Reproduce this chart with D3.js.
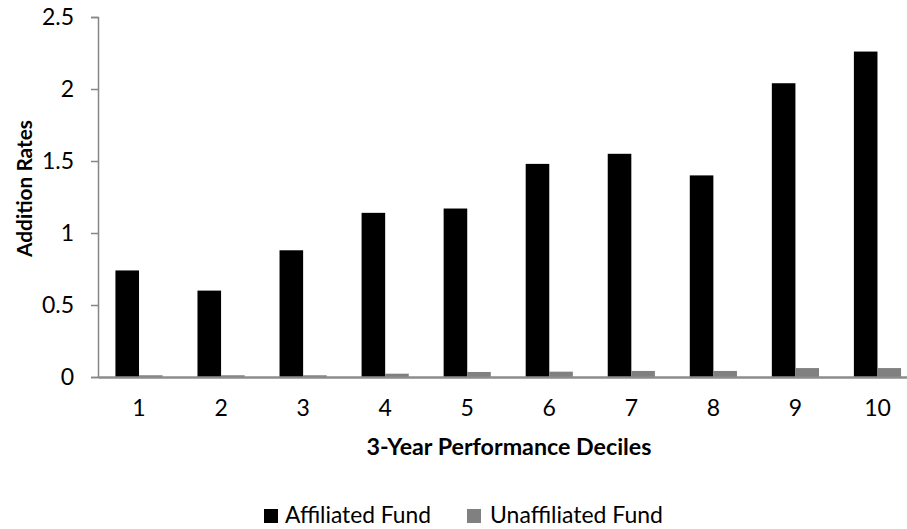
<!DOCTYPE html>
<html>
<head>
<meta charset="utf-8">
<script src="https://cdn.jsdelivr.net/npm/d3@7"></script>
<style>
  html, body { margin: 0; padding: 0; background: #fff; overflow: hidden; }
  svg { display: block; font-family: Lato, "Open Sans", "Liberation Sans", sans-serif; }
</style>
</head>
<body>
<svg id="chart" width="907" height="529"></svg>
<script>
const categories = ["1", "2", "3", "4", "5", "6", "7", "8", "9", "10"];
const affiliated = [0.74, 0.60, 0.88, 1.14, 1.17, 1.48, 1.55, 1.40, 2.04, 2.26];
const unaffiliated = [0.012, 0.012, 0.012, 0.023, 0.035, 0.037, 0.042, 0.042, 0.062, 0.062];
const yTicks = [0, 0.5, 1, 1.5, 2, 2.5];
const seriesNames = ["Affiliated Fund", "Unaffiliated Fund"];
const seriesColors = ["#000000", "#808080"];

const svg = d3.select("#chart");
const plotLeft = 98, plotRight = 918.5, plotTop = 17, plotBottom = 377;

// fit a text element's font size so its width matches a target
function fitWidth(sel, target) {
  const node = sel.node();
  const fs = parseFloat(sel.attr("font-size"));
  const w = node.getComputedTextLength();
  if (w > 0) sel.attr("font-size", (fs * target / w).toFixed(2));
  return sel;
}

const x = d3.scaleBand().domain(categories).range([plotLeft, plotRight])
  .paddingInner(0.425).paddingOuter(0.2125);
const xs = d3.scaleBand().domain([0, 1]).range([0, x.bandwidth()]);
const y = d3.scaleLinear().domain([0, 2.5]).range([plotBottom, plotTop]);

const data = categories.map((c, i) => ({ c, vals: [affiliated[i], unaffiliated[i]] }));

const g = svg.append("g");
const groups = g.selectAll("g.grp").data(data).join("g")
  .attr("transform", d => `translate(${x(d.c)},0)`);
groups.selectAll("rect").data(d => d.vals.map((v, k) => ({ v, k }))).join("rect")
  .attr("x", d => xs(d.k))
  .attr("width", xs.bandwidth())
  .attr("y", d => y(d.v))
  .attr("height", d => y(0) - y(d.v))
  .attr("fill", d => seriesColors[d.k]);

const tickFont = 23;

// y axis
const yAxis = d3.axisLeft(y).tickValues(yTicks).tickSize(7).tickPadding(17)
  .tickFormat(d => d3.format("")(d));
const ya = svg.append("g").attr("transform", `translate(${plotLeft},0)`).call(yAxis);
ya.select(".domain").attr("stroke", "#868686").attr("stroke-width", 1.5);
ya.selectAll(".tick line").attr("stroke", "#868686").attr("stroke-width", 1.5);
ya.selectAll(".tick text").attr("font-size", tickFont).attr("fill", "#000")
  .attr("font-family", "Lato, 'Open Sans', sans-serif");

// x axis
const xAxis = d3.axisBottom(x).tickSize(0).tickPadding(23);
const xa = svg.append("g").attr("transform", `translate(0,${plotBottom})`).call(xAxis);
xa.select(".domain").attr("stroke", "#8c8c8c").attr("stroke-width", 2.5);
xa.selectAll(".tick text").attr("font-size", tickFont).attr("fill", "#000")
  .attr("font-family", "Lato, 'Open Sans', sans-serif");

// axis titles
const yTitle = svg.append("text").attr("transform", `translate(32,188.5) rotate(-90)`)
  .attr("text-anchor", "middle")
  .attr("font-size", 20).attr("font-weight", "bold").text("Addition Rates");
fitWidth(yTitle, 137);
const xTitle = svg.append("text").attr("x", 509).attr("y", 455)
  .attr("text-anchor", "middle")
  .attr("font-size", 20).attr("font-weight", "bold").text("3-Year Performance Deciles");
fitWidth(xTitle, 285);

// legend
const legendItems = [{ x: 264, tx: 285, w: 146 }, { x: 467, tx: 490, w: 173 }];
seriesNames.forEach((name, i) => {
  svg.append("rect").attr("x", legendItems[i].x).attr("y", 509)
    .attr("width", 14).attr("height", 14).attr("fill", seriesColors[i]);
  const t = svg.append("text").attr("x", legendItems[i].tx).attr("y", 523)
    .attr("font-size", 23).attr("fill", "#000").text(name);
  fitWidth(t, legendItems[i].w);
});
</script>
</body>
</html>
